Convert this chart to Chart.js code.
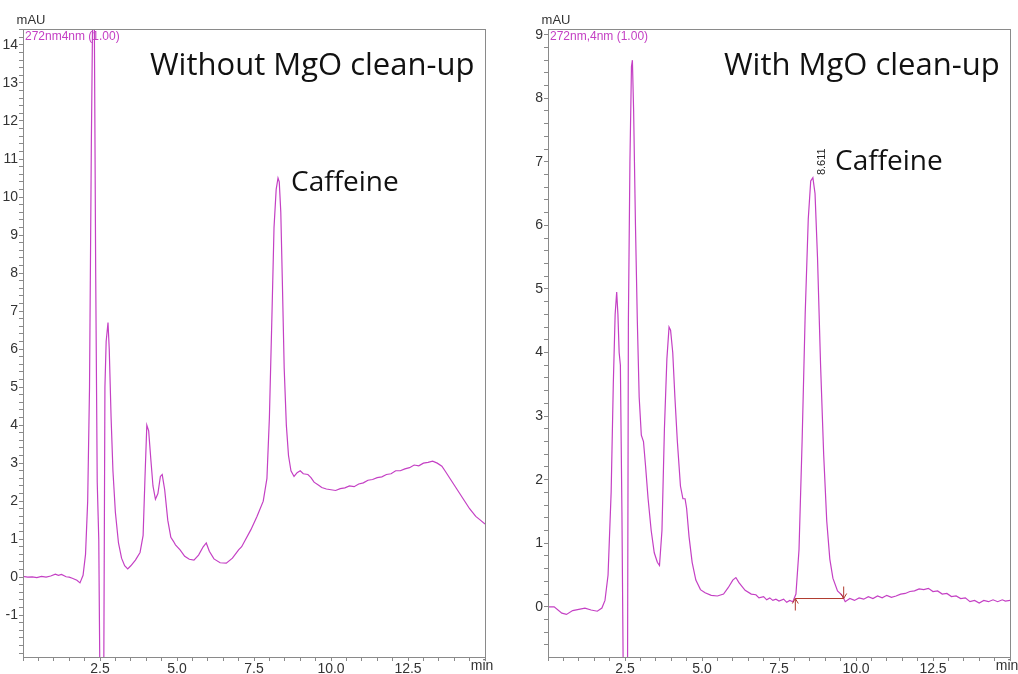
<!DOCTYPE html>
<html>
<head>
<meta charset="utf-8">
<script src="https://cdn.jsdelivr.net/npm/chart.js@4.4.1/dist/chart.umd.min.js"></script>
<style>
  html, body { margin: 0; padding: 0; background: #fff; }
  #wrap { position: relative; width: 1018px; height: 674px; }
  canvas { position: absolute; top: 0; }
  #left { left: 0; }
  #right { left: 510px; }
</style>
</head>
<body>
<div id="wrap">
  <canvas id="left" width="510" height="674"></canvas>
  <canvas id="right" width="508" height="674"></canvas>
</div>
<script>
// Without MgO clean-up (retention time in min, absorbance in mAU)
const leftTime = [0, 0.15, 0.3, 0.45, 0.6, 0.75, 0.9, 1.05, 1.15, 1.25, 1.4, 1.5, 1.6, 1.75, 1.85, 1.95, 2.03, 2.1, 2.16, 2.22,
  2.27, 2.31, 2.36, 2.41, 2.46, 2.5, 2.62, 2.66, 2.7, 2.76, 2.8, 2.86, 2.92, 3.0, 3.1, 3.2, 3.3, 3.4, 3.5, 3.65,
  3.8, 3.9, 3.96, 4.02, 4.08, 4.15, 4.22, 4.3, 4.38, 4.46, 4.52, 4.6, 4.7, 4.8, 4.88, 4.95, 5.1, 5.25, 5.4, 5.55,
  5.7, 5.85, 5.95, 6.05, 6.2, 6.4, 6.6, 6.8, 7.0, 7.1, 7.2, 7.4, 7.6, 7.8, 7.92, 8.0, 8.08, 8.15, 8.22, 8.28,
  8.32, 8.37, 8.42, 8.48, 8.55, 8.62, 8.7, 8.8, 8.9, 9.0, 9.1, 9.25, 9.35, 9.45, 9.6, 9.7, 9.85, 10.0, 10.15, 10.3,
  10.45, 10.6, 10.75, 10.9, 11.05, 11.2, 11.35, 11.5, 11.65, 11.8, 11.95, 12.1, 12.25, 12.4, 12.55, 12.7, 12.85, 13.0, 13.15, 13.3,
  13.45, 13.6, 13.7, 13.9, 14.1, 14.3, 14.5, 14.7, 14.85, 15.0];
const leftSignal = [0.02, 0.0, 0.01, -0.01, 0.02, 0.0, 0.03, 0.08, 0.05, 0.07, 0.01, 0.0, -0.03, -0.08, -0.15, 0.05, 0.6, 2.0, 5.0, 11.5,
  15.5, 15.5, 8.0, 2.5, 1.0, -3.0, -3.0, 5.0, 6.2, 6.7, 6.0, 4.2, 2.8, 1.7, 0.9, 0.5, 0.3, 0.22, 0.3, 0.45,
  0.65, 1.1, 2.6, 4.0, 3.85, 3.1, 2.4, 2.05, 2.2, 2.65, 2.7, 2.3, 1.5, 1.05, 0.95, 0.85, 0.72, 0.55, 0.47, 0.45,
  0.58, 0.8, 0.9, 0.68, 0.48, 0.38, 0.37, 0.5, 0.72, 0.8, 0.95, 1.25, 1.6, 2.0, 2.6, 4.2, 6.8, 9.2, 10.2, 10.5,
  10.4, 9.6, 7.8, 5.5, 4.0, 3.2, 2.8, 2.65, 2.75, 2.8, 2.72, 2.7, 2.62, 2.5, 2.42, 2.36, 2.32, 2.3, 2.28, 2.33,
  2.35, 2.4, 2.38, 2.45, 2.48, 2.55, 2.57, 2.62, 2.64, 2.7, 2.72, 2.8, 2.8, 2.85, 2.88, 2.95, 2.93, 3.0, 3.02, 3.05,
  3.0, 2.92, 2.8, 2.55, 2.3, 2.05, 1.8, 1.6, 1.5, 1.4];

// With MgO clean-up
const rightTime = [0, 0.2, 0.45, 0.6, 0.8, 1.0, 1.2, 1.4, 1.6, 1.75, 1.85, 1.95, 2.05, 2.12, 2.18, 2.23, 2.27, 2.31, 2.35, 2.4,
  2.45, 2.58, 2.61, 2.66, 2.71, 2.74, 2.78, 2.84, 2.9, 2.96, 3.03, 3.1, 3.17, 3.25, 3.35, 3.45, 3.55, 3.62, 3.7, 3.78,
  3.86, 3.93, 3.98, 4.05, 4.12, 4.2, 4.3, 4.38, 4.45, 4.5, 4.58, 4.68, 4.8, 4.95, 5.1, 5.3, 5.5, 5.7, 5.85, 6.0,
  6.1, 6.2, 6.4, 6.6, 6.75, 6.85, 7.0, 7.1, 7.2, 7.3, 7.4, 7.5, 7.65, 7.75, 7.85, 7.95, 8.05, 8.15, 8.25, 8.35,
  8.45, 8.53, 8.6, 8.67, 8.75, 8.85, 8.95, 9.05, 9.15, 9.25, 9.4, 9.55, 9.65, 9.8, 9.95, 10.1, 10.25, 10.4, 10.55, 10.7,
  10.85, 11.0, 11.15, 11.3, 11.45, 11.6, 11.75, 11.9, 12.05, 12.2, 12.35, 12.5, 12.65, 12.8, 12.95, 13.1, 13.25, 13.4, 13.55, 13.7,
  13.85, 14.0, 14.15, 14.3, 14.45, 14.6, 14.75, 14.85, 15.0];
const rightSignal = [0.0, 0.0, -0.1, -0.12, -0.06, -0.04, -0.02, -0.05, -0.07, -0.02, 0.1, 0.5, 1.8, 3.5, 4.6, 4.95, 4.6, 4.0, 3.8, 1.5,
  -1.5, -1.5, 4.5, 7.0, 8.5, 8.6, 7.8, 6.0, 4.5, 3.3, 2.7, 2.6, 2.2, 1.7, 1.2, 0.85, 0.7, 0.65, 1.2, 2.8,
  3.9, 4.4, 4.35, 4.0, 3.3, 2.6, 1.9, 1.7, 1.7, 1.55, 1.1, 0.7, 0.42, 0.27, 0.22, 0.18, 0.17, 0.2, 0.3, 0.42,
  0.46, 0.38, 0.26, 0.2, 0.19, 0.14, 0.16, 0.11, 0.14, 0.1, 0.12, 0.09, 0.12, 0.07, 0.1, 0.08, 0.2, 0.9, 2.6, 4.6,
  6.1, 6.7, 6.75, 6.5, 5.5, 3.8, 2.4, 1.35, 0.75, 0.45, 0.25, 0.18, 0.08, 0.13, 0.1, 0.14, 0.12, 0.16, 0.13, 0.17,
  0.14, 0.18, 0.15, 0.17, 0.2, 0.21, 0.24, 0.25, 0.28, 0.27, 0.29, 0.24, 0.25, 0.2, 0.21, 0.16, 0.17, 0.13, 0.14, 0.08,
  0.1, 0.06, 0.1, 0.08, 0.11, 0.08, 0.11, 0.09, 0.1];

// integration baseline drawn under the caffeine peak (right panel)
const baselineTime = [8.03, 9.6];
const baselineSignal = [0.13, 0.13];
const caffeineRt = 8.611;

// axis labels
const xTickLabels = [2.5, 5.0, 7.5, 10.0, 12.5];
const leftYLabels = [-1, 0, 1, 2, 3, 4, 5, 6, 7, 8, 9, 10, 11, 12, 13, 14];
const rightYLabels = [0, 1, 2, 3, 4, 5, 6, 7, 8, 9];

const traceColor = '#c440c4';
const axisColor = '#8a8a8a';
const labelFont = { family: 'Liberation Sans, Arial, sans-serif', size: 14 };

function toPoints(xs, ys) {
    return xs.map((x, i) => ({ x: x, y: ys[i] }));
}

function stepTicks(min, max, step) {
    const out = [];
    for (let v = Math.ceil(min / step - 1e-9) * step; v <= max + 1e-9; v += step) {
        out.push({ value: Math.round(v * 100) / 100 });
    }
    return out;
}

function hasLabel(list, v) {
    return list.some(l => Math.abs(l - v) < 1e-6);
}

// frame round the plot + small texts drawn by the software
function panelPlugin(cfg) {
    return {
        id: 'panel',
        afterDraw(chart) {
            const ctx = chart.ctx;
            const a = chart.chartArea;
            const xs = chart.scales.x;
            const ys = chart.scales.y;
            ctx.save();
            ctx.strokeStyle = axisColor;
            ctx.lineWidth = 1;
            ctx.strokeRect(Math.round(a.left) + 0.5, Math.round(a.top) + 0.5,
                Math.round(a.right - a.left), Math.round(a.bottom - a.top));

            ctx.fillStyle = '#333';
            ctx.font = '13px Liberation Sans, Arial, sans-serif';
            ctx.textBaseline = 'middle';
            ctx.textAlign = 'center';
            ctx.fillText('mAU', a.left + 8, 20);
            ctx.font = '14px Liberation Sans, Arial, sans-serif';
            ctx.fillText('min', a.right - 3, 666);

            ctx.fillStyle = traceColor;
            ctx.font = '12px Liberation Sans, Arial, sans-serif';
            ctx.textAlign = 'left';
            ctx.fillText(cfg.channel, a.left + 2, a.top + 8);

            ctx.fillStyle = '#111';
            ctx.font = '31px Open Sans, sans-serif';
            ctx.fillText(cfg.title, cfg.titleX, 66);
            ctx.font = '28px Open Sans, sans-serif';
            ctx.fillText('Caffeine', cfg.peakX, cfg.peakY);

            if (cfg.baseline) {
                const x1 = xs.getPixelForValue(baselineTime[0]);
                const x2 = xs.getPixelForValue(baselineTime[1]);
                const yb = ys.getPixelForValue(baselineSignal[0]);
                ctx.strokeStyle = '#b03a2e';
                ctx.beginPath();
                ctx.moveTo(x1, yb + 12); ctx.lineTo(x1, yb);
                ctx.moveTo(x1 - 3, yb + 5); ctx.lineTo(x1, yb); ctx.lineTo(x1 + 3, yb + 5);
                ctx.moveTo(x2, yb - 12); ctx.lineTo(x2, yb);
                ctx.moveTo(x2 - 3, yb - 5); ctx.lineTo(x2, yb); ctx.lineTo(x2 + 3, yb - 5);
                ctx.stroke();

                ctx.save();
                ctx.translate(xs.getPixelForValue(caffeineRt) + 9, ys.getPixelForValue(6.75) - 16);
                ctx.rotate(-Math.PI / 2);
                ctx.fillStyle = '#222';
                ctx.font = '11px Liberation Sans, Arial, sans-serif';
                ctx.textAlign = 'center';
                ctx.fillText(caffeineRt.toFixed(3), 0, 0);
                ctx.restore();
            }
            ctx.restore();
        }
    };
}

function makeChart(id, cfg) {
    const datasets = [{
        data: toPoints(cfg.time, cfg.signal),
        borderColor: traceColor,
        borderWidth: 1.2,
        pointRadius: 0,
        tension: 0
    }];
    if (cfg.baseline) {
        datasets.push({
            data: toPoints(baselineTime, baselineSignal),
            borderColor: '#b03a2e',
            borderWidth: 1,
            pointRadius: 0
        });
    }
    return new Chart(document.getElementById(id), {
        type: 'line',
        data: { datasets: datasets },
        options: {
            responsive: false,
            animation: false,
            layout: { padding: { top: 29, right: cfg.padRight, left: cfg.padLeft, bottom: 0 } },
            plugins: { legend: { display: false }, tooltip: { enabled: false } },
            scales: {
                x: {
                    type: 'linear',
                    min: 0,
                    max: 15,
                    afterBuildTicks: s => { s.ticks = stepTicks(0, 15, 0.5); },
                    afterFit: s => { s.height = 17; },
                    grid: { drawOnChartArea: false, tickLength: 4, color: axisColor },
                    border: { color: axisColor },
                    ticks: {
                        autoSkip: false,
                        maxRotation: 0,
                        padding: 0,
                        color: '#333',
                        font: labelFont,
                        callback: v => hasLabel(xTickLabels, v) ? v.toFixed(1) : ''
                    }
                },
                y: {
                    type: 'linear',
                    min: cfg.yMin,
                    max: cfg.yMax,
                    afterBuildTicks: s => { s.ticks = stepTicks(cfg.yMin, cfg.yMax, 0.2); },
                    afterFit: s => { s.width = 23; },
                    grid: { drawOnChartArea: false, tickLength: 4, color: axisColor },
                    border: { color: axisColor },
                    ticks: {
                        autoSkip: false,
                        padding: 1,
                        color: '#333',
                        font: labelFont,
                        callback: v => hasLabel(cfg.yLabels, v) ? String(Math.round(v)) : ''
                    }
                }
            }
        },
        plugins: [panelPlugin(cfg)]
    });
}

makeChart('left', {
    time: leftTime, signal: leftSignal,
    yMin: -2.1, yMax: 14.42, yLabels: leftYLabels,
    padLeft: 0, padRight: 25,
    channel: '272nm4nm (1.00)',
    title: 'Without MgO clean-up', titleX: 150,
    peakX: 291, peakY: 183,
    baseline: false
});

makeChart('right', {
    time: rightTime, signal: rightSignal,
    yMin: -0.79, yMax: 9.09, yLabels: rightYLabels,
    padLeft: 15, padRight: 8,
    channel: '272nm,4nm (1.00)',
    title: 'With MgO clean-up', titleX: 214,
    peakX: 325, peakY: 162,
    baseline: true
});
</script>
</body>
</html>
